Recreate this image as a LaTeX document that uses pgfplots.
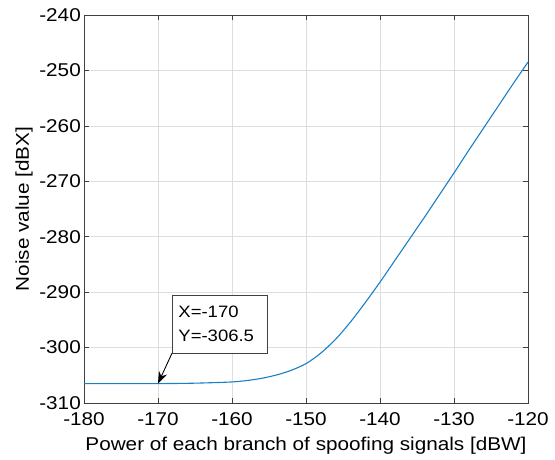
\documentclass[border=0pt]{standalone}
\usepackage{fontspec}
\setmainfont{Liberation Sans}[FakeStretch=1.12]
\usepackage{pgfplots}
\pgfplotsset{compat=1.18}
\usetikzlibrary{arrows.meta}

\definecolor{mblue}{rgb}{0.1,0.5,0.78}

\pgfplotstableread{
x     y
-180  -306.5
-175  -306.5
-170  -306.5
-166  -306.45
-163  -306.35
-160  -306.2
-158  -305.95
-156  -305.55
-154  -304.95
-152  -304.1
-150  -302.9
-148  -301.0
-146  -298.5
-144  -295.4
-142  -291.9
-140  -288.2
-138  -284.3
-136  -280.4
-134  -276.5
-132  -272.5
-130  -268.5
-128  -264.4
-126  -260.4
-124  -256.4
-122  -252.4
-120  -248.5
}\noisedata

\begin{document}
\begin{tikzpicture}
\path[use as bounding box] (-84pt,-57pt) rectangle (471pt,403pt);
\begin{axis}[
  at={(0pt,0pt)}, anchor=south west,
  width=444pt, height=388pt, scale only axis,
  xmin=-180, xmax=-120, ymin=-310, ymax=-240,
  xtick distance=10, ytick distance=10,
  grid=major,
  major grid style={draw=black!13, line width=0.6pt},
  axis line style={draw=black!75, line width=0.8pt},
  tick style={draw=black!75, line width=0.6pt},
  tick align=inside, major tick length=5pt,
  font=\fontsize{18.5}{21}\selectfont,
  /pgf/number format/assume math mode=true,
  xticklabel style={yshift=-6pt},
  yticklabel style={inner sep=3pt},
  xlabel={Power of each branch of spoofing signals [dBW]},
  ylabel={Noise value [dBX]},
  xlabel style={at={(axis description cs:0.5,0)}, anchor=north, inner sep=0pt, yshift=-34pt},
  ylabel style={at={(axis description cs:-0.115,0.5)}, anchor=south, inner sep=0pt},
]
\addplot[mblue, line width=1.1pt, smooth] table[x=x, y=y] {\noisedata};

\draw[-{Stealth[length=12pt,width=9pt]}, black, line width=0.9pt]
  (axis cs:-168.1,-301.0) -- (axis cs:-170,-306.5);
\node[draw=black!75, line width=0.8pt, fill=white, anchor=north west,
      minimum width=95pt, minimum height=58pt, text width=83pt,
      inner xsep=6pt, align=left, font=\fontsize{16.5}{24}\selectfont]
  at (axis cs:-168.1,-290.5) {X=-170\\Y=-306.5};
\end{axis}
\end{tikzpicture}
\end{document}
